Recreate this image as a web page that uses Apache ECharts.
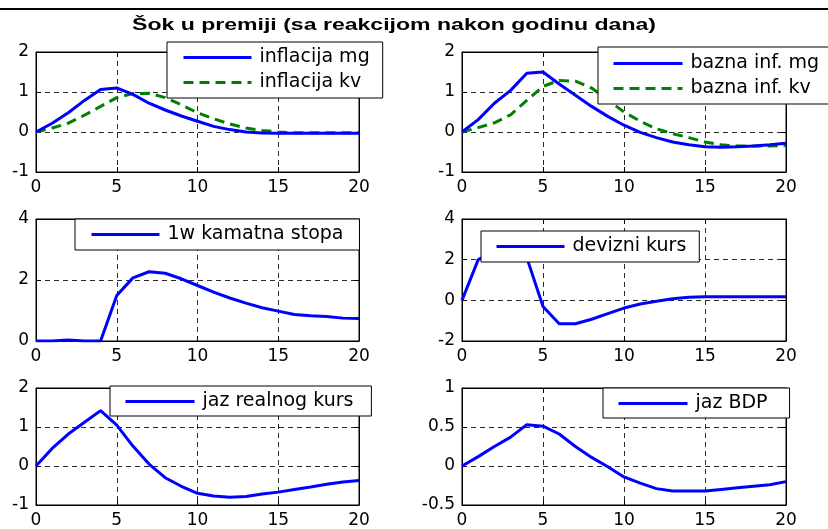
<!DOCTYPE html>
<html><head><meta charset="utf-8">
<script src="https://cdn.jsdelivr.net/npm/echarts@6/dist/echarts.min.js"></script>
<style>html,body{margin:0;padding:0;background:#fff}#c{width:828px;height:529px}</style>
</head><body><div id="c"></div><script>
const titleText = 'Šok u premiji (sa reakcijom nakon godinu dana)';
const periods = [0,1,2,3,4,5,6,7,8,9,10,11,12,13,14,15,16,17,18,19,20];

const inflacijaMg = [0,0.22,0.48,0.79,1.06,1.1,0.94,0.72,0.55,0.4,0.27,0.14,0.06,0.0,-0.025,-0.03,-0.03,-0.03,-0.03,-0.03,-0.03];
const inflacijaKv = [0,0.1,0.22,0.42,0.64,0.86,0.96,0.97,0.86,0.68,0.48,0.33,0.2,0.1,0.04,0.0,-0.02,-0.02,-0.02,-0.02,-0.02];
const baznaMg = [0,0.31,0.72,1.04,1.47,1.5,1.2,0.92,0.64,0.39,0.17,-0.01,-0.14,-0.25,-0.32,-0.37,-0.38,-0.37,-0.35,-0.32,-0.28];
const baznaKv = [0,0.11,0.23,0.43,0.79,1.14,1.29,1.27,1.1,0.8,0.5,0.27,0.08,-0.04,-0.14,-0.25,-0.32,-0.35,-0.35,-0.35,-0.34];
const kamatnaStopa = [0,0,0.03,0,0,1.49,2.07,2.27,2.22,2.04,1.82,1.6,1.41,1.24,1.09,0.98,0.87,0.83,0.8,0.75,0.74];
const devizniKurs = [0,2.0,2.4,2.5,2.1,-0.3,-1.15,-1.15,-0.93,-0.65,-0.38,-0.18,-0.05,0.08,0.15,0.18,0.18,0.18,0.18,0.18,0.18];
const jazRealnogKurs = [0,0.45,0.82,1.12,1.42,1.05,0.51,0.05,-0.3,-0.52,-0.7,-0.77,-0.8,-0.78,-0.72,-0.67,-0.6,-0.54,-0.47,-0.41,-0.37];
const jazBDP = [0,0.12,0.25,0.37,0.53,0.51,0.41,0.25,0.11,-0.01,-0.14,-0.22,-0.29,-0.32,-0.32,-0.32,-0.3,-0.28,-0.26,-0.24,-0.2];

const xRange = [0, 20, 5];
const yRanges = [[-1,2,1],[-1,2,1],[0,4,2],[-2,4,2],[-1,2,1],[-0.5,1,0.5]];
const seriesNames = [
  ['inflacija mg','inflacija kv'],
  ['bazna inf. mg','bazna inf. kv'],
  ['1w kamatna stopa'],
  ['devizni kurs'],
  ['jaz realnog kurs'],
  ['jaz BDP']
];
const seriesValues = [
  [inflacijaMg, inflacijaKv],
  [baznaMg, baznaKv],
  [kamatnaStopa],
  [devizniKurs],
  [jazRealnogKurs],
  [jazBDP]
];

// layout (pixels)
const grids = [
  {left:36, top:52, width:323, height:120},
  {left:462, top:52, width:324, height:120},
  {left:36, top:219, width:323, height:122},
  {left:462, top:219, width:324, height:122},
  {left:36, top:388, width:323, height:121},
  {left:462, top:388, width:324, height:121}
];
const legendPos = [
  {left:167, top:42, padding:[6,13,6,15], itemWidth:68},
  {left:598, top:47, padding:[7,14,6,14], itemWidth:69},
  {left:75, top:219, padding:[6,16,6,15], itemWidth:68},
  {left:481, top:231, padding:[6,13,6,14], itemWidth:68},
  {left:110, top:386, padding:[6,18,5,14], itemWidth:69},
  {left:603, top:388, padding:[6,22,5,14], itemWidth:69}
];

const FONT = 'DejaVu Sans';
const gridLine = {show:true, lineStyle:{color:'#2a2a2a', type:[5,4], width:1}};

const option = {
  animation:false,
  backgroundColor:'#fff',
  grid: grids.map(g => Object.assign({show:true, borderColor:'#000', borderWidth:1, backgroundColor:'transparent', containLabel:false}, g)),
  xAxis: [], yAxis: [], series: [], legend: [],
  graphic: []
};

grids.forEach((g, i) => {
  option.xAxis.push({
    gridIndex:i, type:'value', min:xRange[0], max:xRange[1], interval:xRange[2],
    axisLine:{show:true, onZero:false, lineStyle:{color:'#000', width:1}},
    axisTick:{show:true, inside:true, length:5, lineStyle:{color:'#000'}},
    axisLabel:{show:true, margin:7, color:'#000', fontFamily:FONT, fontSize:17},
    splitLine:gridLine
  });
  option.xAxis.push({
    gridIndex:i, type:'value', position:'top', min:xRange[0], max:xRange[1], interval:xRange[2],
    axisLine:{show:true, onZero:false, lineStyle:{color:'#000', width:1}},
    axisTick:{show:true, inside:true, length:5, lineStyle:{color:'#000'}},
    axisLabel:{show:false}, splitLine:{show:false}
  });
  const yr = yRanges[i];
  option.yAxis.push({
    gridIndex:i, type:'value', min:yr[0], max:yr[1], interval:yr[2],
    axisLine:{show:true, onZero:false, lineStyle:{color:'#000', width:1}},
    axisTick:{show:true, inside:true, length:5, lineStyle:{color:'#000'}},
    axisLabel:{show:true, margin:7, color:'#000', fontFamily:FONT, fontSize:17},
    splitLine:gridLine
  });
  option.yAxis.push({
    gridIndex:i, type:'value', position:'right', min:yr[0], max:yr[1], interval:yr[2],
    axisLine:{show:true, onZero:false, lineStyle:{color:'#000', width:1}},
    axisTick:{show:true, inside:true, length:5, lineStyle:{color:'#000'}},
    axisLabel:{show:false}, splitLine:{show:false}
  });
  const names = seriesNames[i];
  names.forEach((nm, k) => {
    const vals = seriesValues[i][k];
    const dashed = k === 1;
    option.series.push({
      type:'line', name:nm, xAxisIndex:2*i, yAxisIndex:2*i,
      data: periods.map((t, j) => [t, vals[j]]),
      symbol:'none', smooth:false, clip:true, z: dashed ? 3 : 4,
      lineStyle:{color: dashed ? '#008000' : '#0000ff', width:3, type: dashed ? [10,6] : 'solid'},
      itemStyle:{color: dashed ? '#008000' : '#0000ff'}
    });
  });
  const lp = legendPos[i];
  option.legend.push({
    data: names, orient:'vertical', left:lp.left, top:lp.top, padding:lp.padding,
    itemWidth:lp.itemWidth, itemHeight:12, itemGap:6,
    backgroundColor:'#fff', borderColor:'#000', borderWidth:1, borderRadius:0,
    selectedMode:false, z:10,
    itemStyle:{opacity:0, borderWidth:0},
    lineStyle:{width:3, opacity:1},
    textStyle:{fontFamily:FONT, fontSize:19, lineHeight:19, color:'#000', padding:[0,0,0,3]}
  });
});

// title, stretched horizontally to match the reference width
const titleFont = 'bold 16px "Liberation Sans"';
const cv = document.createElement('canvas').getContext('2d');
cv.font = titleFont;
const tw = cv.measureText(titleText).width;
const sx = 524 / tw;
option.graphic.push({
  type:'text', x:394, y:25, scaleX:sx, scaleY:1.05, z:20,
  style:{text:titleText, x:0, y:0, font:titleFont, fill:'#000', align:'center', verticalAlign:'middle'}
});
option.graphic.push({
  type:'rect', shape:{x:0, y:8, width:828, height:2}, style:{fill:'#000'}, z:20
});

const chart = echarts.init(document.getElementById('c'), null, {renderer:'canvas'});
chart.setOption(option);
</script></body></html>
